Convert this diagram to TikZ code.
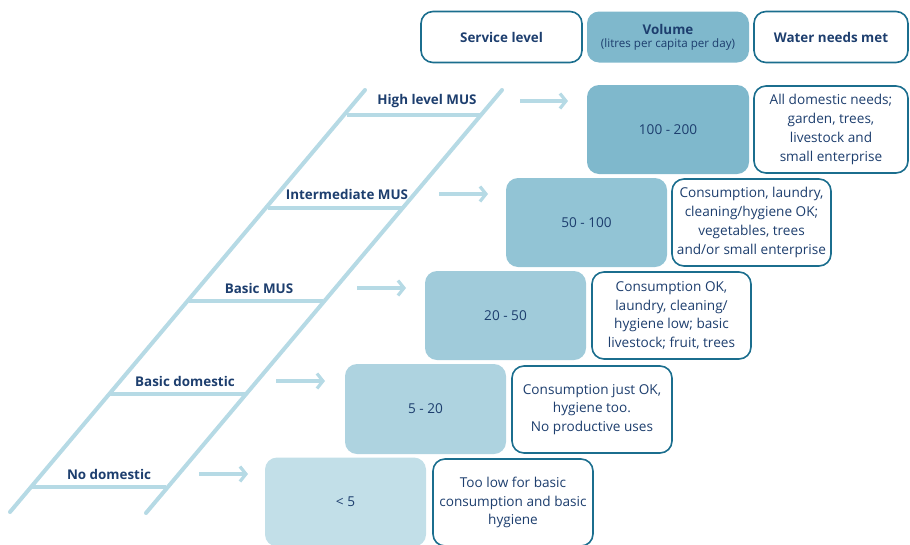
\documentclass[tikz,border=0pt]{standalone}
\usepackage{fontspec}
\setmainfont{Open Sans}
\usetikzlibrary{arrows.meta}
\definecolor{navy}{HTML}{1D3E6E}
\definecolor{bord}{HTML}{1B6E8E}
\definecolor{lad}{HTML}{B6DAE5}
\definecolor{vA}{HTML}{7FB8CC}
\definecolor{vB}{HTML}{92C4D5}
\definecolor{vC}{HTML}{A0CBDA}
\definecolor{vD}{HTML}{AED3E0}
\definecolor{vE}{HTML}{C2DFE8}
\begin{document}
\begin{tikzpicture}[x=1pt,y=-1pt,
  txt/.style={text=navy,font=\fontsize{13.6}{18.7}\selectfont},
  vol/.style={txt,rounded corners=12pt,minimum width=161pt,minimum height=89pt,inner sep=0pt},
  desc/.style={txt,draw=bord,line width=1.6pt,rounded corners=12pt,fill=white,minimum width=#1,minimum height=87pt,inner sep=0pt,align=center},
  hdr/.style={txt,font=\fontsize{13.4}{15}\selectfont\bfseries,rounded corners=12pt,minimum height=51pt,inner sep=0pt,align=center},
  rail/.style={lad,line width=4pt,line cap=round},
  rung/.style={lad,line width=3.2pt},
  lvl/.style={txt,font=\fontsize{13.4}{15}\selectfont\bfseries},
  arr/.style={lad,line width=3.2pt,-{Straight Barb[length=6pt,width=15pt,line width=3.2pt]}}
]
\useasboundingbox (0,0) rectangle (910,544);
\clip (0,0) rectangle (910,544);
% header
\node[hdr,draw=bord,line width=1.6pt,minimum width=161pt] (hs) at (501.5,37) {Service level};
\node[hdr,fill=vA,minimum width=162pt] (hv) at (668,37) {Volume\\[-2pt]{\mdseries\fontsize{11.6}{13}\selectfont (litres per capita per day)}};
\node[hdr,draw=bord,line width=1.6pt,minimum width=154pt] (hw) at (831,37) {Water needs met};
% ladder
\coordinate (lt) at (365,90); \coordinate (lb) at (10,512);
\coordinate (rt) at (502,90); \coordinate (rb) at (146,513);
\draw[rail] (lb) -- (lt);
\draw[rail] (rb) -- (rt);
\draw[rung] (347,115) -- (481,115);
\draw[rung] (268,208) -- (402,208);
\draw[rung] (189,301) -- (323,301);
\draw[rung] (110,394) -- (245,394);
\draw[rung] (32,487) -- (166,487);
% level labels
\node[lvl] (l1) at (427,101) {High level MUS};
\node[lvl] (l2) at (347,194) {Intermediate MUS};
\node[lvl] (l3) at (259,288) {Basic MUS};
\node[lvl] (l4) at (185,381) {Basic domestic};
\node[lvl] (l5) at (109,474) {No domestic};
% arrows
\coordinate (a1s) at (520,101); \coordinate (a1e) at (568,101);
\coordinate (a2s) at (439,194); \coordinate (a2e) at (488,194);
\coordinate (a3s) at (357,288); \coordinate (a3e) at (406,288);
\coordinate (a4s) at (276,381); \coordinate (a4e) at (325,381);
\coordinate (a5s) at (199,474); \coordinate (a5e) at (248,474);
\draw[arr] (a1s) -- (a1e);
\draw[arr] (a2s) -- (a2e);
\draw[arr] (a3s) -- (a3e);
\draw[arr] (a4s) -- (a4e);
\draw[arr] (a5s) -- (a5e);
% volume boxes
\node[vol,fill=vA,minimum width=162pt] (v1) at (668,129.5) {100 - 200};
\node[vol,fill=vB] (v2) at (586.5,222.5) {50 - 100};
\node[vol,fill=vC] (v3) at (505.5,315.5) {20 - 50};
\node[vol,fill=vD,minimum height=90pt] (v4) at (425.5,409) {5 - 20};
\node[vol,fill=vE] (v5) at (345.5,502) {< 5};
% descriptions
\node[desc=154pt] (d1) at (831,129.5) {All domestic needs;\\garden, trees,\\livestock and\\small enterprise};
\node[desc=159pt] (d2) at (751.5,222.5) {Consumption, laundry,\\cleaning/hygiene OK;\\vegetables, trees\\and/or small enterprise};
\node[desc=159pt] (d3) at (671.5,315.5) {Consumption OK,\\laundry, cleaning/\\hygiene low; basic\\livestock; fruit, trees};
\node[desc=160pt] (d4) at (592,409.5) {Consumption just OK,\\hygiene too.\\No productive uses};
\node[desc=160pt] (d5) at (513,502.5) {Too low for basic\\consumption and basic\\hygiene};
\end{tikzpicture}
\end{document}
